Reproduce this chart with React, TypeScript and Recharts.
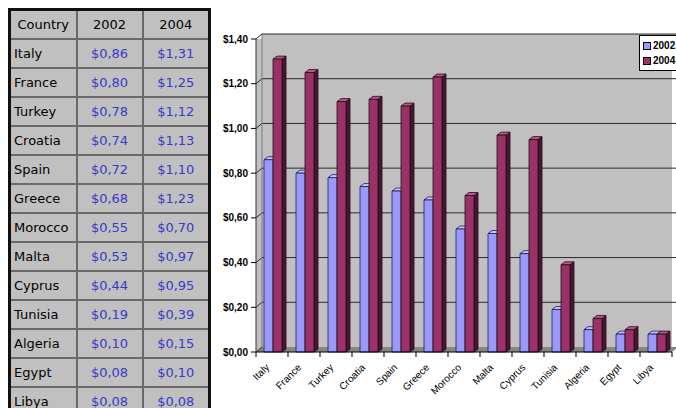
import { BarChart, Bar, XAxis, YAxis, CartesianGrid, Legend } from 'recharts';

const countries = ['Italy', 'France', 'Turkey', 'Croatia', 'Spain', 'Greece', 'Morocco', 'Malta', 'Cyprus', 'Tunisia', 'Algeria', 'Egypt', 'Libya'];
const prices2002 = [0.86, 0.8, 0.78, 0.74, 0.72, 0.68, 0.55, 0.53, 0.44, 0.19, 0.1, 0.08, 0.08];
const prices2004 = [1.31, 1.25, 1.12, 1.13, 1.1, 1.23, 0.7, 0.97, 0.95, 0.39, 0.15, 0.1, 0.08];
const yTicks = [0, 0.2, 0.4, 0.6, 0.8, 1.0, 1.2, 1.4];

const data = countries.map((country, i) => ({ country, y2002: prices2002[i], y2004: prices2004[i] }));

// chart layout
const CHART_W = 466;
const CHART_H = 408;
const AXIS_W = 46;
const X_AXIS_H = 56;
const MARGIN = { top: 39, right: 4, bottom: 0, left: 0 };
const PLOT_W = CHART_W - AXIS_W - MARGIN.left - MARGIN.right;
const PLOT_BOTTOM = CHART_H - MARGIN.bottom - X_AXIS_H;
const WALL_DX = 6;
const WALL_DY = 5;

const fmt = (v: number) => '$' + v.toFixed(2).replace('.', ',');

const SERIES = {
  y2002: { front: '#9999ff', top: '#c4c4ff', side: '#4c4c80', edge: '#1c1c5a' },
  y2004: { front: '#993366', top: '#b85a86', side: '#4a1530', edge: '#2a0716' },
};

function Bar3D(props: any) {
  const { x, y, width, height, colors } = props;
  if (width == null || height == null) return null;
  const bx = x + 1;
  const dx = 4;
  const dy = 3;
  return (
    <g strokeWidth={0.8} stroke={colors.edge} strokeLinejoin="round">
      <polygon
        points={`${bx + width},${y} ${bx + width + dx},${y - dy} ${bx + width + dx},${y + height - dy} ${bx + width},${y + height}`}
        fill={colors.side}
      />
      <polygon
        points={`${bx},${y} ${bx + dx},${y - dy} ${bx + width + dx},${y - dy} ${bx + width},${y}`}
        fill={colors.top}
      />
      <rect x={bx} y={y} width={width} height={height} fill={colors.front} />
    </g>
  );
}

function GridLine(props: any) {
  const { x1, y1, x2 } = props;
  const isTop = Math.abs(y1 - MARGIN.top) < 1;
  const isBottom = Math.abs(y1 - PLOT_BOTTOM) < 1;
  return (
    <g>
      {isTop && (
        <>
          <rect x={x1 + WALL_DX} y={y1 - WALL_DY} width={x2 - x1} height={WALL_DY} fill="#c0c0c0" />
          <line x1={x1 + WALL_DX} y1={y1 - WALL_DY} x2={x1 + WALL_DX} y2={PLOT_BOTTOM - WALL_DY} stroke="#7a7a7a" />
        </>
      )}
      {isBottom && (
        <polygon
          points={`${x1},${y1} ${x2},${y1} ${x2 + WALL_DX},${y1 - WALL_DY} ${x1 + WALL_DX},${y1 - WALL_DY}`}
          fill="#858585"
        />
      )}
      <line x1={x1} y1={y1} x2={x1 + WALL_DX} y2={y1 - WALL_DY} stroke="#2a2a2a" />
      {!isBottom && <line x1={x1 + WALL_DX} y1={y1 - WALL_DY} x2={x2 + WALL_DX} y2={y1 - WALL_DY} stroke="#2a2a2a" />}
    </g>
  );
}

function CountryTick(props: any) {
  const { x, y, payload, index } = props;
  const band = PLOT_W / countries.length;
  const tx = x - 2;
  const ty = y + 16;
  return (
    <g>
      <line x1={x - band / 2} y1={y} x2={x - band / 2} y2={y + 5} stroke="#000" />
      {index === countries.length - 1 && <line x1={x + band / 2} y1={y} x2={x + band / 2} y2={y + 5} stroke="#000" />}
      <text
        x={tx}
        y={ty}
        textAnchor="end"
        transform={`rotate(-45 ${tx} ${ty})`}
        fontSize={10}
        fontFamily="Liberation Sans, Arial, sans-serif"
        fill="#000"
      >
        {payload.value}
      </text>
    </g>
  );
}

function LegendBox() {
  const items = [
    { label: '2002', color: SERIES.y2002.front },
    { label: '2004', color: SERIES.y2004.front },
  ];
  return (
    <div
      style={{
        border: '1px solid #000',
        background: '#fff',
        padding: '2px 4px 2px 3px',
        fontFamily: 'Liberation Sans, Arial, sans-serif',
        fontSize: 10,
        fontWeight: 'bold',
        width: 50,
      }}
    >
      {items.map((it) => (
        <div key={it.label} style={{ display: 'flex', alignItems: 'center', height: 15 }}>
          <span style={{ width: 6, height: 6, background: it.color, border: '1px solid #000', marginRight: 2 }} />
          {it.label}
        </div>
      ))}
    </div>
  );
}

const cell: React.CSSProperties = {
  border: '2px solid #6a6a6a',
  height: 27,
  padding: '0 4px',
  overflow: 'hidden',
  whiteSpace: 'nowrap',
};

export default function App() {
  return (
    <div style={{ position: 'absolute', left: 0, top: 0, width: 676, height: 408, background: '#fff', overflow: 'hidden' }}>
      <table
        style={{
          position: 'absolute',
          left: 8,
          top: 8,
          width: 200,
          tableLayout: 'fixed',
          borderCollapse: 'collapse',
          border: '3px solid #111',
          background: '#c0c0c0',
          fontFamily: '"DejaVu Sans", Verdana, sans-serif',
          fontSize: 13,
        }}
      >
        <colgroup>
          <col style={{ width: 67 }} />
          <col style={{ width: 66 }} />
          <col style={{ width: 67 }} />
        </colgroup>
        <tbody>
          <tr>
            <td style={{ ...cell, textAlign: 'center' }}>Country</td>
            <td style={{ ...cell, textAlign: 'center' }}>2002</td>
            <td style={{ ...cell, textAlign: 'center' }}>2004</td>
          </tr>
          {countries.map((c, i) => (
            <tr key={c}>
              <td style={{ ...cell, textAlign: 'left', paddingLeft: 3 }}>{c}</td>
              <td style={{ ...cell, textAlign: 'center', color: '#3a3ac6' }}>{fmt(prices2002[i])}</td>
              <td style={{ ...cell, textAlign: 'center', color: '#3a3ac6' }}>{fmt(prices2004[i])}</td>
            </tr>
          ))}
        </tbody>
      </table>

      <div style={{ position: 'absolute', left: 210, top: 0 }}>
        <BarChart width={CHART_W} height={CHART_H} data={data} margin={MARGIN} barCategoryGap={7} barGap={0}>
          <CartesianGrid vertical={false} fill="#c0c0c0" horizontal={(p: any) => <GridLine {...p} />} />
          <XAxis
            dataKey="country"
            interval={0}
            height={X_AXIS_H}
            tickSize={0}
            tickMargin={0}
            axisLine={{ stroke: '#000' }}
            tick={(p: any) => <CountryTick {...p} />}
          />
          <YAxis
            width={AXIS_W}
            domain={[0, 1.4]}
            ticks={yTicks}
            tickFormatter={fmt}
            tickSize={5}
            tickMargin={3}
            axisLine={{ stroke: '#333' }}
            tickLine={{ stroke: '#000' }}
            tick={{ fontSize: 10, fontWeight: 'bold', fill: '#000', fontFamily: 'Liberation Sans, Arial, sans-serif' }}
          />
          <Legend
            layout="vertical"
            verticalAlign="middle"
            align="center"
            wrapperStyle={{ left: 429, top: 35, width: 60 }}
            content={() => <LegendBox />}
          />
          <Bar dataKey="y2002" name="2002" isAnimationActive={false} shape={(p: any) => <Bar3D {...p} colors={SERIES.y2002} />} />
          <Bar dataKey="y2004" name="2004" isAnimationActive={false} shape={(p: any) => <Bar3D {...p} colors={SERIES.y2004} />} />
        </BarChart>
      </div>
    </div>
  );
}
